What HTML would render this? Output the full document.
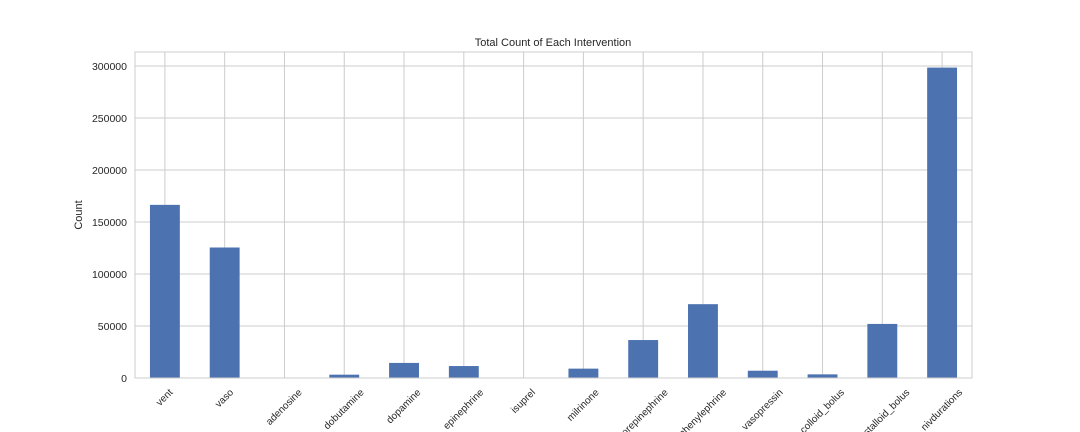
<!DOCTYPE html>
<html><head><meta charset="utf-8"><style>
html,body{margin:0;padding:0;background:#fff;width:1080px;height:432px;overflow:hidden}
text{font-family:"Liberation Sans",sans-serif;fill:#262626}
</style></head><body>
<svg id="chart" width="1080" height="432" viewBox="0 0 1080 432" xmlns="http://www.w3.org/2000/svg" style="display:block;overflow:hidden">
<g id="grid"></g><g id="bars"></g><g id="labels"></g>
<rect x="135" y="52" width="837" height="326" fill="none" stroke="#cccccc" stroke-width="1"/>
<text x="553" y="46" font-size="11" text-anchor="middle">Total Count of Each Intervention</text>
<text transform="translate(82,215) rotate(-90)" font-size="11" text-anchor="middle">Count</text>
</svg>
<script>
const categories=["vent","vaso","adenosine","dobutamine","dopamine","epinephrine","isuprel","milrinone","norepinephrine","phenylephrine","vasopressin","colloid_bolus","crystalloid_bolus","nivdurations"];
const counts=[166500,125500,300,3200,14500,11500,300,9000,36500,71000,7000,3500,52000,298500];
const yTicks=[0,50000,100000,150000,200000,250000,300000];
const L=135,R=972,T=52,B=378,YMAX=313500;
const ns="http://www.w3.org/2000/svg";
const step=(R-L)/categories.length;
const x=i=>L+step*(i+0.5);
const y=v=>B-(v/YMAX)*(B-T);
const grid=document.getElementById('grid'),bars=document.getElementById('bars'),labels=document.getElementById('labels');
function mk(t,a,p){const e=document.createElementNS(ns,t);for(const k in a)e.setAttribute(k,a[k]);p.appendChild(e);return e;}
yTicks.forEach(v=>{
 const l=mk('line',{x1:L,x2:R,y1:y(v),y2:y(v),stroke:'#cccccc','stroke-width':1},grid);
 
 
 const t=mk('text',{x:L-8,y:y(v)+4,'font-size':10.5,'text-anchor':'end'},labels);
 t.textContent=v;
 
 
});
categories.forEach((c,i)=>{
 const l=mk('line',{x1:x(i),x2:x(i),y1:T,y2:B,stroke:'#cccccc','stroke-width':1},grid);
 
 
 const bw=step*0.5;
 const r=mk('rect',{x:x(i)-bw/2,y:y(counts[i]),width:bw,height:B-y(counts[i]),fill:'#4c72b0'},bars);
 
 
 const t=mk('text',{x:0,y:0,'font-size':10,'text-anchor':'middle','dominant-baseline':'central'},labels);
 t.textContent=c;
 
 
 const w=t.getComputedTextLength(), h=9;
 const half=(w+h)/Math.SQRT2/2;
 t.setAttribute('transform',`translate(${x(i)},${B+10+half}) rotate(-45)`);
});
</script>
</body></html>
